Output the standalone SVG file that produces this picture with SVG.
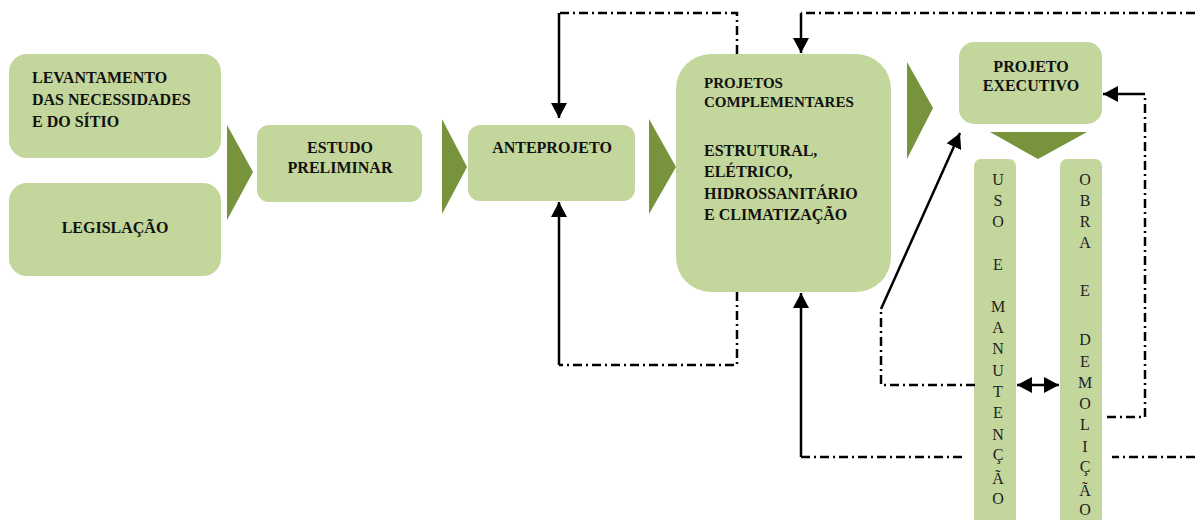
<svg xmlns="http://www.w3.org/2000/svg" width="1195" height="520" viewBox="0 0 1195 520">
<style>
.box{fill:#c3d69b}
.chev{fill:#77933c}
.t{font-family:"Liberation Serif","Times New Roman",serif;font-weight:bold;font-size:16px;fill:#111}
.tc{text-anchor:middle}
.v{font-family:"Liberation Serif","Times New Roman",serif;font-size:16px;fill:#222;text-anchor:middle}
.dd{fill:none;stroke:#000;stroke-width:2.5;stroke-dasharray:9 4 2 4}
.sl{fill:none;stroke:#000;stroke-width:2.5}
</style>
<defs>
<marker id="ah" markerUnits="userSpaceOnUse" markerWidth="16" markerHeight="16" refX="15" refY="8" orient="auto-start-reverse">
<path d="M0,0 L15,8 L0,16 z" fill="#000"/>
</marker>
</defs>
<rect width="1195" height="520" fill="#fff"/>

<g id="chevrons">
<polygon class="chev" points="227,125 253,172 227,220"/>
<polygon class="chev" points="442,119 467,167 442,214"/>
<polygon class="chev" points="649,119 676,167 649,214"/>
<polygon class="chev" points="907,62 933,108 907,159"/>
<polygon class="chev" points="990,132 1087,132 1038,159"/>
</g>

<g id="levantamento">
<rect class="box" x="9" y="54" width="212" height="104" rx="18"/>
<text class="t" x="32" y="83">LEVANTAMENTO</text>
<text class="t" x="32" y="105">DAS NECESSIDADES</text>
<text class="t" x="32" y="127">E DO SÍTIO</text>
</g>

<g id="legislacao">
<rect class="box" x="9" y="183" width="212" height="93" rx="18"/>
<text class="t tc" x="115" y="233">LEGISLAÇÃO</text>
</g>

<g id="estudo">
<rect class="box" x="257" y="125" width="165" height="77" rx="12"/>
<text class="t tc" x="340" y="153">ESTUDO</text>
<text class="t tc" x="340" y="173">PRELIMINAR</text>
</g>

<g id="anteprojeto">
<rect class="box" x="468" y="125" width="167" height="76" rx="12"/>
<text class="t tc" x="552" y="153">ANTEPROJETO</text>
</g>

<g id="complementares">
<rect class="box" x="676" y="54" width="215" height="238" rx="35"/>
<text class="t" x="704" y="88" style="font-size:15px">PROJETOS</text>
<text class="t" x="704" y="107" style="font-size:15px">COMPLEMENTARES</text>
<text class="t" x="704" y="156">ESTRUTURAL,</text>
<text class="t" x="704" y="177">ELÉTRICO,</text>
<text class="t" x="704" y="199">HIDROSSANITÁRIO</text>
<text class="t" x="704" y="220">E CLIMATIZAÇÃO</text>
</g>

<g id="executivo">
<rect class="box" x="959" y="42" width="143" height="82" rx="15"/>
<text class="t tc" x="1031" y="72">PROJETO</text>
<text class="t tc" x="1031" y="91">EXECUTIVO</text>
</g>

<g id="uso">
<rect class="box" x="974" y="159" width="42" height="375" rx="7"/>
<text class="v" x="998" y="185">U</text>
<text class="v" x="998" y="206">S</text>
<text class="v" x="998" y="227">O</text>
<text class="v" x="998" y="270">E</text>
<text class="v" x="998" y="312">M</text>
<text class="v" x="998" y="333">A</text>
<text class="v" x="998" y="354">N</text>
<text class="v" x="998" y="376">U</text>
<text class="v" x="998" y="397">T</text>
<text class="v" x="998" y="418">E</text>
<text class="v" x="998" y="440">N</text>
<text class="v" x="998" y="460">Ç</text>
<text class="v" x="998" y="484">Ã</text>
<text class="v" x="998" y="504">O</text>
</g>

<g id="obra">
<rect class="box" x="1060" y="159" width="42" height="375" rx="7"/>
<text class="v" x="1085" y="185">O</text>
<text class="v" x="1085" y="206">B</text>
<text class="v" x="1085" y="227">R</text>
<text class="v" x="1085" y="248">A</text>
<text class="v" x="1085" y="296">E</text>
<text class="v" x="1085" y="345">D</text>
<text class="v" x="1085" y="367">E</text>
<text class="v" x="1085" y="388">M</text>
<text class="v" x="1085" y="409">O</text>
<text class="v" x="1085" y="430">L</text>
<text class="v" x="1085" y="452">I</text>
<text class="v" x="1085" y="472">Ç</text>
<text class="v" x="1085" y="496">Ã</text>
<text class="v" x="1085" y="515">O</text>
</g>

<g id="connectors">
<path class="dd" d="M737,54 V13 H559"/>
<path class="sl" d="M559,13 V118" marker-end="url(#ah)"/>
<path class="dd" d="M737,292 V365 H559"/>
<path class="sl" d="M559,365 V202" marker-end="url(#ah)"/>
<path class="dd" d="M1195,13 H801"/>
<path class="sl" d="M801,13 V53" marker-end="url(#ah)"/>
<path class="dd" d="M1195,457 H1112"/>
<path class="dd" d="M962,457 H801"/>
<path class="sl" d="M801,457 V293" marker-end="url(#ah)"/>
<path class="dd" d="M975,385 H881 V309"/>
<path class="sl" d="M881,309 L960,133" marker-end="url(#ah)"/>
<path class="sl" d="M1017,385 H1059" marker-start="url(#ah)" marker-end="url(#ah)"/>
<path class="dd" d="M1107,417 H1145 V94"/>
<path class="sl" d="M1145,94 H1103" marker-end="url(#ah)"/>
</g>
</svg>
